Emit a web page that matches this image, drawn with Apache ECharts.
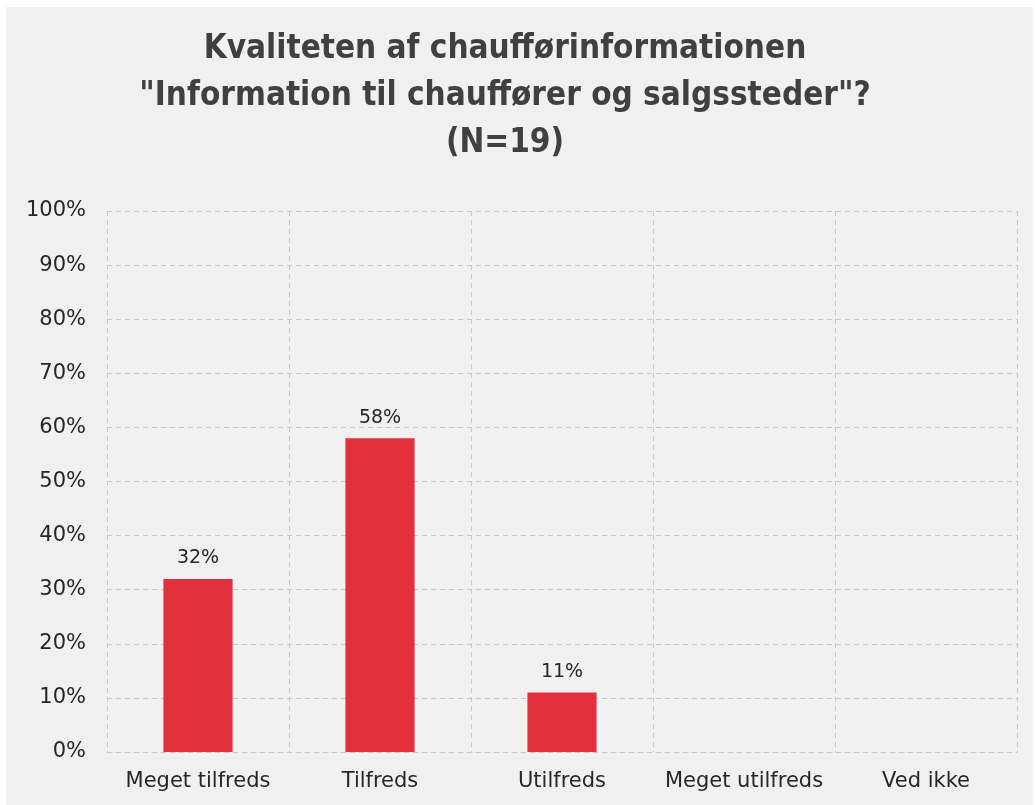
<!DOCTYPE html>
<html>
<head>
<meta charset="utf-8">
<script src="https://cdn.jsdelivr.net/npm/echarts@6/dist/echarts.min.js"></script>
<style>
  body { margin: 0; background: #ffffff; }
  #main { position: absolute; left: 6px; top: 7px; width: 1027px; height: 798px; background: #f0f0f0; }
</style>
</head>
<body>
<div id="main"></div>
<script>
var titleLines = [
  'Kvaliteten af chaufførinformationen',
  '"Information til chauffører og salgssteder"?',
  '(N=19)'
]
var categories = ['Meget tilfreds', 'Tilfreds', 'Utilfreds', 'Meget utilfreds', 'Ved ikke']
var values = [32, 58, 11, 0, 0]
var yTicks = [0, 10, 20, 30, 40, 50, 60, 70, 80, 90, 100]

var myChart = echarts.init(document.getElementById('main'))
var gridLine = { color: '#c8c8c8', type: [5, 4], width: 1 }

var option = {
  backgroundColor: '#f0f0f0',
  title: {
    text: titleLines.join('\n'),
    left: 494,
    top: 14,
    textAlign: 'center',
    textStyle: {
      fontFamily: 'DejaVu Sans Condensed',
      fontWeight: 'bold',
      fontSize: 33,
      lineHeight: 47,
      color: '#404040'
    }
  },
  grid: {
    left: 101,
    right: 16,
    top: 204,
    bottom: 53
  },
  xAxis: {
    type: 'category',
    data: categories,
    axisTick: { show: false },
    axisLine: { show: true, lineStyle: gridLine },
    axisLabel: {
      interval: 0,
      margin: 19,
      fontFamily: 'DejaVu Sans',
      fontSize: 21,
      color: '#262626'
    },
    splitLine: { show: true, interval: 0, lineStyle: gridLine }
  },
  yAxis: {
    type: 'value',
    min: yTicks[0],
    max: yTicks[yTicks.length - 1],
    interval: 10,
    axisLine: { show: false },
    axisTick: { show: false },
    axisLabel: {
      margin: 21,
      padding: [4, 0, 0, 0],
      fontFamily: 'DejaVu Sans',
      fontSize: 21,
      color: '#262626',
      formatter: '{value}%'
    },
    splitLine: { show: true, lineStyle: gridLine }
  },
  series: [{
    type: 'bar',
    data: values,
    barWidth: '38%',
    itemStyle: { color: '#e3303d' },
    label: {
      show: true,
      position: 'top',
      distance: 11,
      fontFamily: 'DejaVu Sans',
      fontSize: 19,
      color: '#262626',
      formatter: function (p) {
        return p.value > 0 ? p.value + '%' : ''
      }
    }
  }]
}
myChart.setOption(option)
</script>
</body>
</html>
